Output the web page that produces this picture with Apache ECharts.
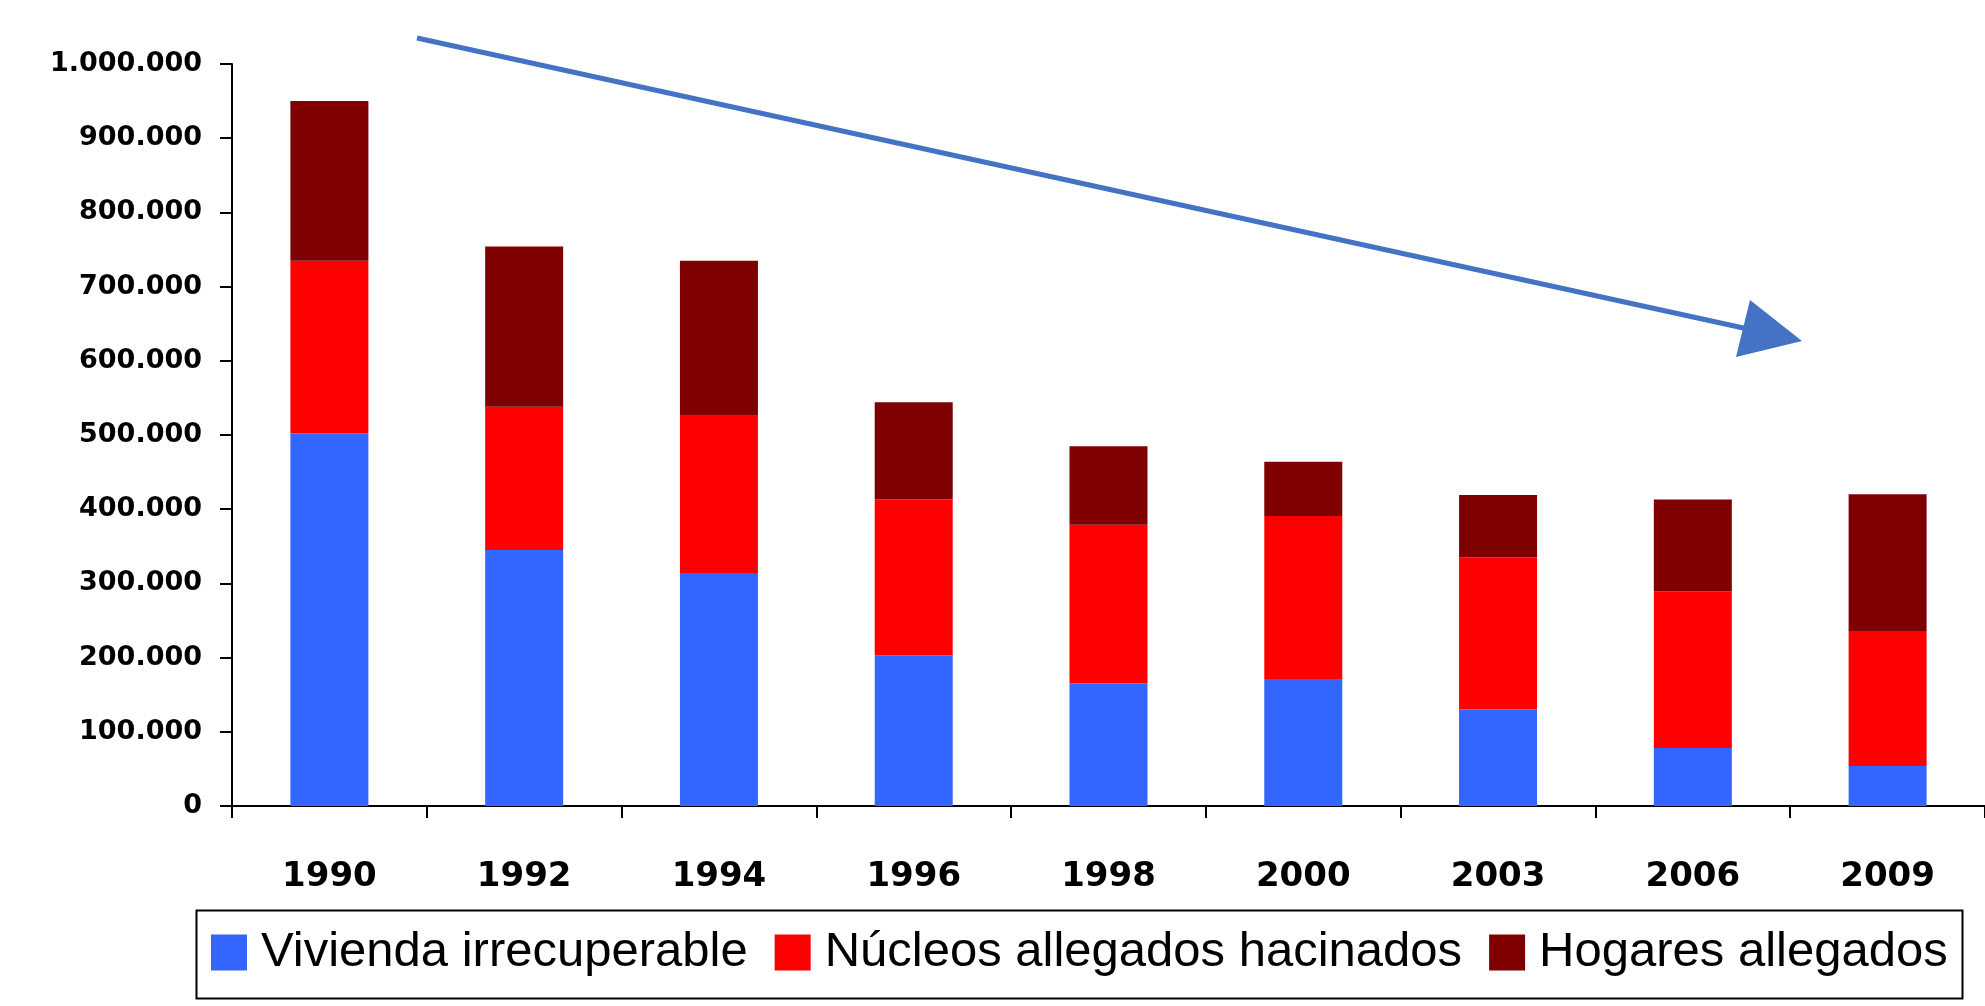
<!DOCTYPE html>
<html>
<head>
<meta charset="utf-8">
<script src="https://cdn.jsdelivr.net/npm/echarts@6/dist/echarts.min.js"></script>
<style>
  html, body { margin: 0; padding: 0; background: #ffffff; }
  #chart { width: 1985px; height: 1006px; }
</style>
</head>
<body>
<div id="chart"></div>
<script>
// ---- data ----
const categories = ['1990', '1992', '1994', '1996', '1998', '2000', '2003', '2006', '2009'];
const seriesNames = ['Vivienda irrecuperable', 'Núcleos allegados hacinados', 'Hogares allegados'];
const viviendaIrrecuperable = [502000, 345000, 314000, 203000, 165000, 171000, 130000, 78000, 54000];
const nucleosAllegados     = [233000, 193000, 212000, 210000, 214000, 220000, 205000, 211000, 182000];
const hogaresAllegados     = [215000, 216000, 209000, 131000, 106000, 73000, 84000, 124000, 184000];
const yMin = 0, yMax = 1000000, yStep = 100000;

// ---- style ----
const colors = ['#3366FF', '#FF0000', '#7F0000'];
const arrowColor = '#4472C4';

function fmtThousands(v) {
  return String(Math.round(v)).replace(/\B(?=(\d{3})+(?!\d))/g, '.');
}

const chart = echarts.init(document.getElementById('chart'), null, { renderer: 'canvas' });

const values = [viviendaIrrecuperable, nucleosAllegados, hogaresAllegados];

const option = {
  backgroundColor: '#ffffff',
  animation: false,
  grid: { left: 232, top: 64, width: 1766, height: 742, containLabel: false },
  legend: {
    data: seriesNames,
    left: 211,
    top: 928,
    padding: 0,
    itemWidth: 36,
    itemHeight: 36,
    itemGap: 27,
    icon: 'rect',
    textStyle: {
      fontFamily: 'Liberation Sans',
      fontSize: 49,
      color: '#000000',
      padding: [0, 0, 0, 9]
    }
  },
  xAxis: {
    type: 'category',
    data: categories,
    boundaryGap: true,
    axisLine: { show: true, lineStyle: { color: '#000000', width: 2 } },
    axisTick: { show: true, length: 12, lineStyle: { color: '#000000', width: 2 } },
    axisLabel: {
      margin: 54,
      fontFamily: 'DejaVu Sans',
      fontWeight: 'bold',
      fontSize: 34,
      color: '#000000'
    },
    splitLine: { show: false }
  },
  yAxis: {
    type: 'value',
    min: yMin,
    max: yMax,
    interval: yStep,
    axisLine: { show: true, lineStyle: { color: '#000000', width: 2 } },
    axisTick: { show: true, length: 12, lineStyle: { color: '#000000', width: 2 } },
    axisLabel: {
      margin: 30,
      fontFamily: 'DejaVu Sans',
      fontWeight: 'bold',
      fontSize: 27,
      color: '#000000',
      formatter: fmtThousands
    },
    splitLine: { show: false }
  },
  series: seriesNames.map((name, i) => ({
    name: name,
    type: 'bar',
    stack: 'total',
    barWidth: 78,
    data: values[i],
    itemStyle: { color: colors[i] }
  })),
  graphic: [
    {
      type: 'rect',
      left: 194, top: 908,
      shape: { x: 0, y: 0, width: 1766, height: 88 },
      style: { fill: 'none', stroke: '#000000', lineWidth: 2 },
      silent: true
    },
    {
      type: 'line',
      shape: { x1: 417, y1: 38, x2: 1748, y2: 329 },
      style: { stroke: arrowColor, lineWidth: 5 },
      silent: true
    },
    {
      type: 'polygon',
      shape: { points: [[1802, 341], [1750, 300], [1736, 357]] },
      style: { fill: arrowColor },
      silent: true
    }
  ]
};

chart.setOption(option);
</script>
</body>
</html>
